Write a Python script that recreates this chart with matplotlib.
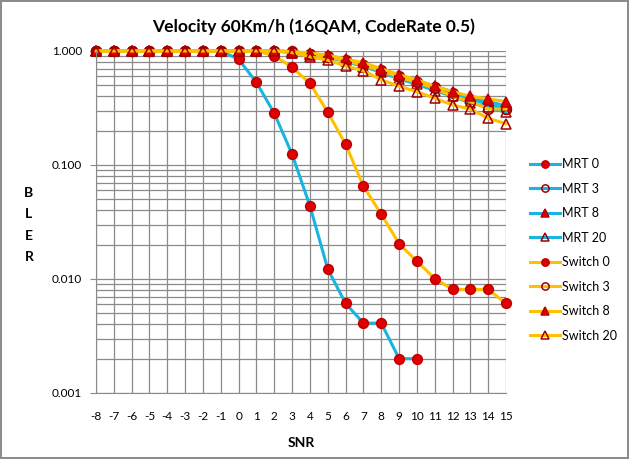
import numpy as np
import matplotlib.pyplot as plt
from matplotlib.ticker import FixedLocator, LogLocator, NullFormatter

plt.rcParams['font.family'] = ['Lato', 'DejaVu Sans']
plt.rcParams['axes.unicode_minus'] = False

snr = list(range(-8, 16))
nan = np.nan

# BLER values
mrt_0 = [1, 1, 1, 1, 1, 1, 1, 1, 0.845, 0.53, 0.284, 0.124, 0.0437, 0.0122,
         0.0061, 0.0041, 0.0041, 0.002, 0.002, nan, nan, nan, nan, nan]
mrt_3 = [1, 1, 1, 1, 1, 1, 1, 1, 1, 1, 1, 0.99, 0.95, 0.90, 0.84, 0.76,
         0.68, 0.60, 0.54, 0.48, 0.43, 0.38, 0.34, 0.31]
mrt_8 = [1, 1, 1, 1, 1, 1, 1, 1, 1, 1, 1, 0.98, 0.95, 0.91, 0.85, 0.77,
         0.69, 0.61, 0.55, 0.49, 0.44, 0.39, 0.36, 0.33]
mrt_20 = [1, 1, 1, 1, 1, 1, 1, 1, 1, 1, 1, 0.97, 0.93, 0.88, 0.81, 0.73,
          0.65, 0.57, 0.51, 0.45, 0.40, 0.35, 0.32, 0.29]
sw_0 = [1, 1, 1, 1, 1, 1, 1, 1, 1, 1, 0.91, 0.72, 0.52, 0.29, 0.152, 0.065,
        0.037, 0.0204, 0.0143, 0.0101, 0.0081, 0.0081, 0.0081, 0.0061]
sw_3 = [1, 1, 1, 1, 1, 1, 1, 1, 1, 1, 1, 0.98, 0.94, 0.89, 0.82, 0.75,
        0.67, 0.59, 0.53, 0.47, 0.40, 0.36, 0.31, 0.31]
sw_8 = [1, 1, 1, 1, 1, 1, 1, 1, 1, 1, 1, 0.99, 0.96, 0.92, 0.85, 0.79,
        0.70, 0.62, 0.56, 0.49, 0.44, 0.40, 0.38, 0.36]
sw_20 = [1, 1, 1, 1, 1, 1, 1, 1, 1, 1, 1, 0.97, 0.89, 0.83, 0.74, 0.67,
         0.56, 0.49, 0.44, 0.385, 0.336, 0.31, 0.257, 0.23]

blue = '#1ab4e0'
yellow = '#ffc000'
red = '#e00000'
dark = '#a00000'

series = [
    ('MRT 0', mrt_0, blue, 'o', red),
    ('MRT 3', mrt_3, blue, 'o', 'none'),
    ('MRT 8', mrt_8, blue, '^', red),
    ('MRT 20', mrt_20, blue, '^', 'none'),
    ('Switch 0', sw_0, yellow, 'o', red),
    ('Switch 3', sw_3, yellow, 'o', 'none'),
    ('Switch 8', sw_8, yellow, '^', red),
    ('Switch 20', sw_20, yellow, '^', 'none'),
]

fig = plt.figure(figsize=(6.29, 4.59), dpi=100)
fig.patch.set_edgecolor('#8c8c8c')
fig.patch.set_linewidth(1.5)
ax = fig.add_axes([0.1526, 0.1438, 0.652, 0.7451])

for name, vals, lc, mk, fc in series:
    ax.plot(snr, vals, color=lc, lw=2.2, marker=mk, markersize=7,
            markerfacecolor=fc, markeredgecolor=dark if fc == 'none' else '#c00000',
            markeredgewidth=1.1, label=name, clip_on=False)

ax.set_yscale('log')
ax.set_ylim(0.001, 1)
ax.set_xlim(-8, 15)
ax.xaxis.set_major_locator(FixedLocator(snr))
ax.yaxis.set_major_locator(FixedLocator([0.001, 0.01, 0.1, 1]))
ax.yaxis.set_major_formatter(lambda v, p: '%.3f' % v)
ax.yaxis.set_minor_locator(LogLocator(base=10, subs=np.arange(2, 10)))
ax.yaxis.set_minor_formatter(NullFormatter())

ax.grid(True, which='both', color='#8a8a8a', lw=0.9)
ax.set_axisbelow(True)
for s in ['top', 'right']:
    ax.spines[s].set_visible(False)
for s in ['left', 'bottom']:
    ax.spines[s].set_color('#8a8a8a')
ax.tick_params(axis='x', length=0, pad=13, labelsize=8.5)
ax.tick_params(axis='y', which='major', length=4, color='#8a8a8a', labelsize=8.5, pad=6)
ax.tick_params(axis='y', which='minor', length=0)

fig.text(0.498, 0.941, 'Velocity 60Km/h (16QAM, CodeRate 0.5)', ha='center', va='center',
         fontsize=12.5, fontweight='bold')
fig.text(0.479, 0.035, 'SNR', ha='center', va='center', fontsize=10, fontweight='bold')
fig.text(0.046, 0.51, 'B\nL\nE\nR', ha='center', va='center', fontsize=10,
         fontweight='bold', linespacing=1.95)

ax.legend(loc='upper left', bbox_to_anchor=(1.03, 0.72), frameon=False, fontsize=9,
          handlelength=2.4, numpoints=1, labelspacing=1.0, handletextpad=0.2,
          markerscale=0.75)

fig.savefig('out.png', dpi=100)
